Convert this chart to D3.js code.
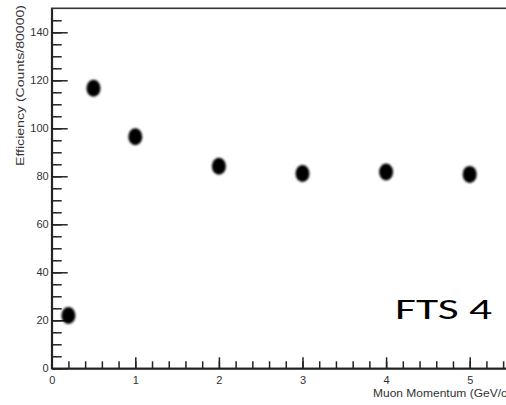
<!DOCTYPE html>
<html>
<head>
<meta charset="utf-8">
<script src="https://cdn.jsdelivr.net/npm/d3@7/dist/d3.min.js"></script>
<style>
  html, body { margin: 0; padding: 0; background: #fff; overflow: hidden; }
  svg { display: block; }
  .tick text { font-family: "Liberation Sans", Arial, sans-serif; fill: #333; }
</style>
</head>
<body>
<svg id="chart" width="506" height="405"></svg>
<script>
// Muon momentum (GeV/c) and measured efficiency (counts / 80000)
const momentum   = [0.2, 0.5, 1, 2, 3, 4, 5];
const efficiency = [22, 116.7, 96.5, 84.2, 81.2, 81.8, 80.8];

// Axis tick labels
const yTickLabels = [0, 20, 40, 60, 80, 100, 120, 140];
const xTickLabels = [0, 1, 2, 3, 4, 5];

const svg = d3.select("#chart");

const x = d3.scaleLinear().domain([0, 5.5]).range([51.7, 51.7 + 5.5 * 83.6]);
const y = d3.scaleLinear().domain([0, 150]).range([368.3, 8.3]);

const defs = svg.append("defs");
defs.append("filter").attr("id", "soft")
  .attr("x", "-50%").attr("y", "-50%").attr("width", "200%").attr("height", "200%")
  .append("feGaussianBlur").attr("stdDeviation", 0.8);

// frame
svg.append("rect")
  .attr("x", x(0)).attr("y", y(150))
  .attr("width", x(5.5) - x(0)).attr("height", y(0) - y(150))
  .attr("fill", "none").attr("stroke", "#333").attr("stroke-width", 1.6);

// y axis: minor ticks every 5, major every 20
svg.append("g").attr("transform", `translate(${x(0)},0)`)
  .call(d3.axisLeft(y).tickValues(d3.range(0, 150, 5)).tickSizeInner(-10).tickSizeOuter(0).tickFormat(""))
  .call(g => g.select(".domain").remove())
  .selectAll("line").attr("stroke", "#222").attr("stroke-width", 1.5);

svg.append("g").attr("transform", `translate(${x(0)},0)`)
  .call(d3.axisLeft(y).tickValues(yTickLabels).tickSizeInner(-16).tickSizeOuter(0).tickPadding(3).tickFormat(d3.format("d")))
  .call(g => g.select(".domain").attr("stroke", "#222").attr("stroke-width", 1.8))
  .call(g => g.selectAll("line").attr("stroke", "#222").attr("stroke-width", 1.5))
  .call(g => g.selectAll("text").attr("font-size", 11));

// x axis: minor ticks every 0.2, major every 1
svg.append("g").attr("transform", `translate(0,${y(0)})`)
  .call(d3.axisBottom(x).tickValues(d3.range(0, 5.5, 0.2)).tickSizeInner(-7).tickSizeOuter(0).tickFormat(""))
  .call(g => g.select(".domain").remove())
  .selectAll("line").attr("stroke", "#222").attr("stroke-width", 1.5);

svg.append("g").attr("transform", `translate(0,${y(0)})`)
  .call(d3.axisBottom(x).tickValues(xTickLabels).tickSizeInner(-11).tickSizeOuter(0).tickPadding(8).tickFormat(d3.format("d")))
  .call(g => g.select(".domain").attr("stroke", "#222").attr("stroke-width", 1.8))
  .call(g => g.selectAll("line").attr("stroke", "#222").attr("stroke-width", 1.5))
  .call(g => g.selectAll("text").attr("font-size", 11));

// axis titles
svg.append("text")
  .attr("x", 373).attr("y", 397)
  .attr("font-family", "Liberation Sans, Arial, sans-serif")
  .attr("font-size", 10).attr("fill", "#333")
  .attr("textLength", 138).attr("lengthAdjust", "spacingAndGlyphs")
  .text("Muon Momentum (GeV/c)");

svg.append("text")
  .attr("transform", "translate(24,166) rotate(-90)")
  .attr("font-family", "Liberation Sans, Arial, sans-serif")
  .attr("font-size", 10).attr("fill", "#333")
  .attr("textLength", 161).attr("lengthAdjust", "spacingAndGlyphs")
  .text("Efficiency (Counts/80000)");

// data markers
svg.append("g").attr("filter", "url(#soft)")
  .selectAll("ellipse")
  .data(momentum.map((m, i) => ({ m, e: efficiency[i] })))
  .join("ellipse")
  .attr("cx", d => x(d.m))
  .attr("cy", d => y(d.e))
  .attr("rx", 7).attr("ry", 8.5)
  .attr("fill", "#000");

// label
svg.append("text")
  .attr("x", 395).attr("y", 319)
  .attr("font-family", "Carlito, 'Liberation Sans', Arial, sans-serif")
  .attr("font-size", 29).attr("font-weight", 400).attr("fill", "#000")
  .attr("textLength", 97).attr("lengthAdjust", "spacingAndGlyphs")
  .text("FTS 4");
</script>
</body>
</html>
